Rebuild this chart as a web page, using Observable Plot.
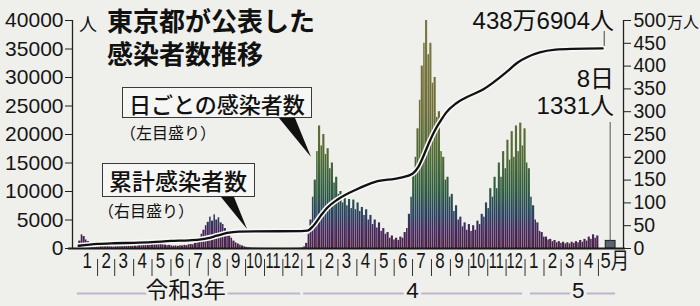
<!DOCTYPE html>
<html><head><meta charset="utf-8">
<script src="https://cdn.jsdelivr.net/npm/d3@7"></script>
<script src="https://cdn.jsdelivr.net/npm/@observablehq/plot@0.6"></script>
<style>
body{margin:0;background:#efefec;}
#wrap{position:relative;width:700px;height:306px;overflow:hidden;font-family:"Liberation Sans","Noto Sans CJK JP",sans-serif;color:#111;}
.ov{position:absolute;white-space:nowrap;line-height:1;}
.box{position:absolute;border:1.5px solid #3a3a3a;background:#f6f6f4;box-sizing:border-box;font-family:"Noto Sans CJK JP",sans-serif;font-weight:500;line-height:1;white-space:nowrap;display:flex;align-items:center;}
svg{overflow:visible;}
</style></head><body><div id="wrap"></div>
<script>
// ---- data ----
const startDate = new Date(2021, 0, 1);           // first half-week bin
const binDays = 3.5;                               // each value covers half a week
const cases2021 = [1300,2400,2100,1500,1200,1000,800,650,550,
  450,380,400,320,350,300,280,250,
  300,280,320,300,350,330,400,380,420,
  450,420,550,500,700,650,850,800,
  900,700,1000,850,800,650,600,500,550,
  450,400,450,380,500,450,550,500,650,
  700,650,900,1000,1800,2500,3200,4000,4600,
  5500,4800,5900,5000,5400,4500,4200,3500,3000,
  2200,1800,1300,1000,800,600,450,300,200,150,
  100,80,60,50,40,35,30,25,20,
  20,18,22,15,18,12,15,12,15,
  15,20,25,30,40,60];
const cases2022 = [100,300,900,2500,5000,9000,12000,17000,21500,18000,
  20000,16500,17500,14000,15000,11500,12500,9500,10000,8000,
  8800,7500,8600,7000,8500,6800,8000,6500,7200,5800,
  6800,5000,5800,4200,5000,3600,4500,3000,3500,2500,
  2800,1800,2200,1500,1800,1400,2000,1800,2800,3500,
  6000,9000,13000,16000,21000,26000,32000,36000,40000,34000,
  36000,29000,30000,23000,24000,17000,16000,12000,12500,9000,
  9500,6500,7500,5000,5500,3800,4500,3200,4200,3000,
  4000,3200,4800,4200,6000,5500,8000,7000,10500,9000,
  12500,10500,15000,12500,17000,14000,19000,15500,20500,16000,
  21500,17000,22000,18000];
const cases2023 = [21000,15000,14000,9000,7500,5000,4500,3000,2800,2000,
  2000,1500,1600,1200,1400,1000,1200,900,1100,800,
  1000,800,1100,900,1200,1000,1400,1100,1600,1300,
  2000,1600,2400,1800,2200];
const latest = [{date: new Date(2023, 4, 8), v: 1331}];
// cumulative total, in 万人
const cumDates = ["2021-01-01","2021-02-01","2021-03-01","2021-04-01","2021-05-01","2021-06-01","2021-07-01","2021-07-20","2021-08-01","2021-08-15","2021-09-01","2021-09-20","2021-10-15","2021-12-31",
  "2022-01-10","2022-01-20","2022-02-01","2022-02-12","2022-03-01","2022-04-01","2022-05-01","2022-06-10","2022-07-01","2022-07-10","2022-07-18","2022-07-28","2022-08-07","2022-08-16","2022-08-25","2022-09-10","2022-09-25","2022-10-25","2022-12-01","2022-12-20",
  "2023-01-05","2023-01-25","2023-02-20","2023-03-20","2023-05-08"];
const cumMan = [6,10,11.5,12.5,14,16.5,18,20,23,28,34,37,37.7,38,
  39,50,72,90,108,130,146,155,164,178,200,232,260,280,298,318,330,349,386,408,
  420,430,436,437.8,438.7];
const leftTicks = [0,5000,10000,15000,20000,25000,30000,35000,40000];
const rightTicks = [0,50,100,150,200,250,300,350,400,450,500];
const monthLabels = ["1","2","3","4","5","6","7","8","9","10","11","12",
  "1","2","3","4","5","6","7","8","9","10","11","12","1","2","3","4"];
const lastMonthLabel = "5月";
const eras = [{label:"令和3年", date:new Date(2021,5,25)},{label:"4", date:new Date(2022,6,1)},{label:"5", date:new Date(2023,2,29)}];
const eraLines = [{start:new Date(2020,11,30), end:new Date(2021,11,30)},{start:new Date(2022,0,4), end:new Date(2022,11,28)},{start:new Date(2023,0,10), end:new Date(2023,4,29)}];
const xDomain = [new Date(2020,11,22), new Date(2023,5,11)];
const PER_MAN = 80; // 40000 on left axis = 500万 on right axis

// ---- derived tables ----
const allCases = [...cases2021, ...cases2022, ...cases2023];
const bins = allCases.map((v,i)=>({d0:d3.timeDay.offset(startDate, Math.round(i*binDays)), d1:d3.timeDay.offset(startDate, Math.round((i+1)*binDays)), v}));
const cum = cumDates.map((d,i)=>({date:new Date(d+"T00:00"), v:cumMan[i]*PER_MAN}));
const monthData = monthLabels.map((label,i)=>({label, date:new Date(2021, i, 15)}));
const lastMonth = [{label:lastMonthLabel, date:new Date(2021, monthLabels.length, 1)}];
const sepDates = d3.range(1, monthLabels.length+1).map(i=>new Date(2021, i, 1));

const chart = Plot.plot({
  width:700, height:306,
  marginTop:20, marginBottom:58, marginLeft:72, marginRight:77,
  style:{background:"transparent", fontFamily:"Liberation Sans, Noto Sans CJK JP, sans-serif", color:"#161616"},
  x:{type:"time", domain:xDomain},
  y:{domain:[0,40000]},
  marks:[
    Plot.rectY(bins, {x1:"d0", x2:"d1", y:"v", fill:"url(#barGrad)", insetLeft:0.15, insetRight:0.15}),
    Plot.rectY(latest, {x1:d=>d3.timeDay.offset(d.date,5), x2:d=>d3.timeDay.offset(d.date,21), y:"v", fill:"#5a6470", stroke:"#1e1e1e", strokeWidth:1}),
    Plot.line(cum, {x:"date", y:"v", curve:"monotone-x", stroke:"#f8f8f8", strokeWidth:5.5}),
    Plot.line(cum, {x:"date", y:"v", curve:"monotone-x", stroke:"#111", strokeWidth:2.3}),
    Plot.ruleX(xDomain, {stroke:"#222", strokeWidth:1.3}),
    Plot.ruleY([0], {stroke:"#1a1a1a", strokeWidth:1.8, insetLeft:-4, insetRight:-2}),
    Plot.axisY({anchor:"left", ticks:leftTicks, tickSize:7, tickPadding:2, fontSize:21, label:null, tickFormat:d=>String(d), stroke:"#222"}),
    Plot.axisY({anchor:"right", ticks:rightTicks.map(v=>v*PER_MAN), tickSize:7, tickPadding:3, fontSize:19.5, label:null, tickFormat:d=>String(d/PER_MAN), stroke:"#222"}),
    Plot.axisX(sepDates, {tickSize:17, dy:11, tickFormat:()=>"", stroke:"#333", label:null}),
    Plot.text(monthData, {x:"date", text:"label", frameAnchor:"bottom", dy:19.5, fontSize:22, fill:"#151515", ariaDescription:"mlab"}),
    Plot.text(lastMonth, {x:"date", text:"label", frameAnchor:"bottom", dy:19.5, dx:2, textAnchor:"start", fontSize:22, fill:"#151515", ariaDescription:"mlab5"}),
    Plot.ruleY(eraLines, {x1:"start", x2:"end", y:()=>0, dy:45, stroke:"#bfb4c8", strokeWidth:2.2}),
    Plot.text(eras, {x:"date", text:"label", frameAnchor:"bottom", dy:49, fontSize:22.5, fontFamily:"Liberation Sans, Noto Sans CJK JP", fill:"#141414", stroke:"#efefec", strokeWidth:6, paintOrder:"stroke"})
  ]
});
const wrap = document.getElementById("wrap");
wrap.appendChild(chart);

// gradient for daily bars, tied to y scale
const ys = chart.scale("y"), xs = chart.scale("x");
const stops = [[0,"#4a2044"],[3000,"#45265a"],[6000,"#27415e"],[10000,"#2c5a40"],[16000,"#4d6a34"],[24000,"#6d6d38"],[40000,"#7c7a42"]];
const NS = "http://www.w3.org/2000/svg";
const defs = document.createElementNS(NS,"defs");
const lg = document.createElementNS(NS,"linearGradient");
lg.setAttribute("id","barGrad"); lg.setAttribute("gradientUnits","userSpaceOnUse");
lg.setAttribute("x1",0); lg.setAttribute("x2",0);
lg.setAttribute("y1",ys.apply(0)); lg.setAttribute("y2",ys.apply(40000));
stops.forEach(([v,c])=>{const s=document.createElementNS(NS,"stop"); s.setAttribute("offset",v/40000); s.setAttribute("stop-color",c); lg.appendChild(s);});
defs.appendChild(lg); chart.insertBefore(defs, chart.firstChild);

// narrow (condensed) month digits via horizontal scaling
function narrow(sel, fn){
  const g = chart.querySelector(sel);
  if (!g) return;
  g.querySelectorAll("text").forEach(t=>{
    const s = fn(t.textContent);
    let tr = t.getAttribute("transform") || "";
    const x = t.getAttribute("x"), y = t.getAttribute("y");
    if (x != null || y != null) { tr += ` translate(${x||0},${y||0})`; t.removeAttribute("x"); t.removeAttribute("y"); }
    t.setAttribute("transform", `${tr} scale(${s},1)`);
  });
}
narrow('g[aria-description="mlab"]', s => s.length===1 ? 0.77 : 0.66);
narrow('g[aria-description="mlab5"]', () => 0.84);

// overlay annotations
function ov(html, style, cls){const d=document.createElement("div"); d.className=cls||"ov"; d.innerHTML=html; Object.assign(d.style, style); wrap.appendChild(d); return d;}
ov("東京都が公表した<br>感染者数推移",{left:"107px",top:"5.5px",fontSize:"26px",lineHeight:"33px",fontWeight:"700",fontFamily:"'Liberation Sans','Noto Sans CJK JP'"});
ov("人",{left:"79px",top:"14px",fontSize:"18px",fontFamily:"Noto Sans CJK JP"});
ov("万人",{left:"667px",top:"13px",fontSize:"16px",fontFamily:"Noto Sans CJK JP"});
ov("日ごとの感染者数",{left:"122px",top:"87px",width:"190px",height:"31px",fontSize:"22px",paddingLeft:"6px"},"box");
ov("（左目盛り）",{left:"120px",top:"124px",fontSize:"16px",fontFamily:"Noto Sans CJK JP"});
ov("累計感染者数",{left:"102px",top:"163px",width:"153px",height:"34px",fontSize:"23px",paddingLeft:"6px"},"box");
ov("（右目盛り）",{left:"98px",top:"202px",fontSize:"16px",fontFamily:"Noto Sans CJK JP"});
ov("438万6904人",{right:"86px",top:"9px",fontSize:"24px"});
ov("8日",{right:"86px",top:"67px",fontSize:"24px"});
ov("1331人",{right:"86px",top:"94px",fontSize:"24px"});

const last = cum[cum.length-1];
const lx = xs.apply(last.date), ly = ys.apply(last.v);
const bx = (xs.apply(d3.timeDay.offset(latest[0].date,5)) + xs.apply(d3.timeDay.offset(latest[0].date,21)))/2;
const by = ys.apply(latest[0].v);
const o = document.createElementNS(NS,"svg");
o.setAttribute("width",700); o.setAttribute("height",306);
Object.assign(o.style,{position:"absolute",left:"0",top:"0",pointerEvents:"none"});
o.innerHTML = `<line x1="${lx+2}" y1="31" x2="${lx+2}" y2="${ly-2}" stroke="#444" stroke-width="1"/>
<line x1="${bx}" y1="122" x2="${bx}" y2="${by}" stroke="#555" stroke-width="1"/>
<polygon points="279,118 295,118 311,157" fill="#111"/>
<polygon points="221,197 234,197 247,229" fill="#111"/>`;
wrap.appendChild(o);
</script></body></html>
